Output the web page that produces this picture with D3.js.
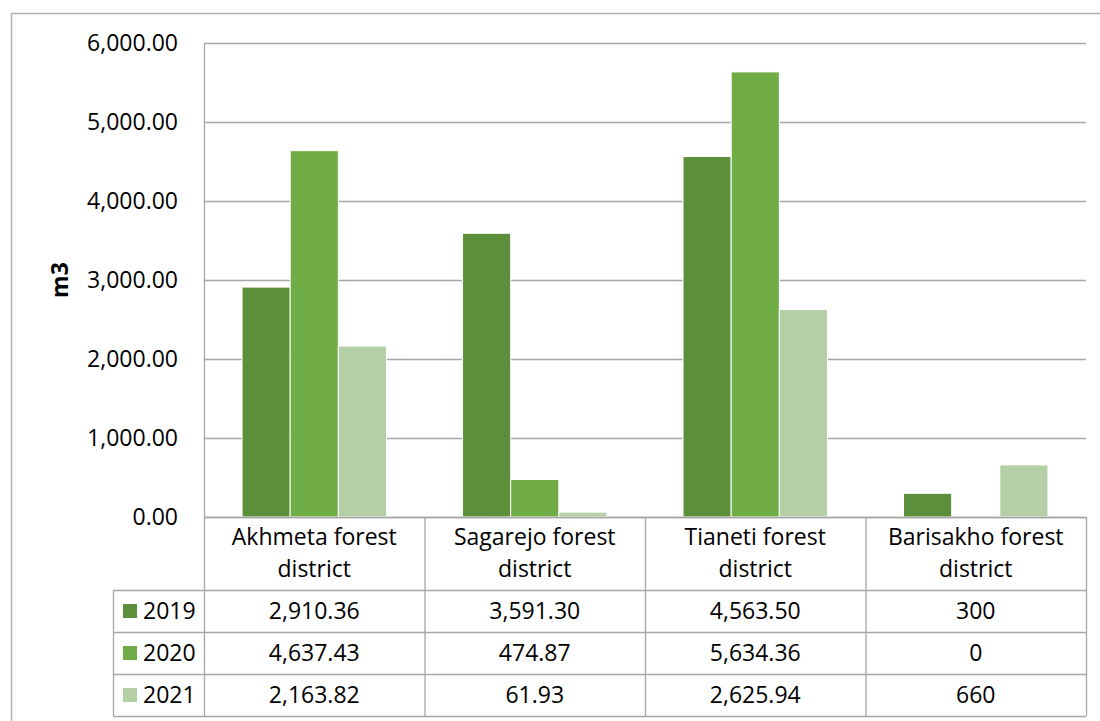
<!DOCTYPE html>
<html>
<head>
<meta charset="utf-8">
<script src="https://cdn.jsdelivr.net/npm/d3@7"></script>
<style>
  body { margin: 0; background: #fff; }
  text { font-family: "Open Sans", "DejaVu Sans", sans-serif; fill: #000; }
</style>
</head>
<body>
<div id="chart"></div>
<script>
// data
const districts = ["Akhmeta forest district", "Sagarejo forest district", "Tianeti forest district", "Barisakho forest district"];
const years = ["2019", "2020", "2021"];
const values2019 = [2910.36, 3591.30, 4563.50, 300];
const values2020 = [4637.43, 474.87, 5634.36, 0];
const values2021 = [2163.82, 61.93, 2625.94, 660];
const yTicks = [0, 1000, 2000, 3000, 4000, 5000, 6000];
const yLabel = "m3";

const series = [values2019, values2020, values2021];
const colors = ["#5b8f3a", "#70ad47", "#b4cfa6"];

const W = 1100, H = 721;
const plot = { left: 204, right: 1086, top: 43, bottom: 517 };
const headerH = 73, rowH = 42, tableLeft = 113;
const gridColor = "#a6a6a6";
const fontSize = 23;

const svg = d3.select("#chart").append("svg")
  .attr("width", W)
  .attr("height", H);

// outer chart border (only top and left edges show in the frame)
svg.append("path")
  .attr("d", `M11.5,${H} V13.5 H${W}`)
  .attr("fill", "none")
  .attr("stroke", "#b3b3b3")
  .attr("stroke-width", 1.5);

const x0 = d3.scaleBand()
  .domain(districts)
  .range([plot.left, plot.right]);

const x1 = d3.scaleBand()
  .domain(years)
  .range([0, x0.bandwidth()])
  .paddingInner(0)
  .paddingOuter(0.79);

const y = d3.scaleLinear()
  .domain([0, 6000])
  .range([plot.bottom, plot.top]);

// gridlines
svg.append("g")
  .selectAll("line")
  .data(yTicks)
  .join("line")
  .attr("x1", plot.left)
  .attr("x2", plot.right)
  .attr("y1", d => Math.round(y(d)) + 0.5)
  .attr("y2", d => Math.round(y(d)) + 0.5)
  .attr("stroke", gridColor)
  .attr("stroke-width", 1.3);

// left axis line
svg.append("line")
  .attr("x1", plot.left + 0.5).attr("x2", plot.left + 0.5)
  .attr("y1", plot.top).attr("y2", plot.bottom)
  .attr("stroke", gridColor)
  .attr("stroke-width", 1.3);

// y tick labels
const fmtTick = d3.format(",.2f");
svg.append("g")
  .selectAll("text")
  .data(yTicks)
  .join("text")
  .attr("x", 178)
  .attr("y", d => y(d))
  .attr("dy", "0.36em")
  .attr("text-anchor", "end")
  .attr("font-size", fontSize)
  .text(d => fmtTick(d));

// y axis title
svg.append("text")
  .attr("transform", `translate(60,${(plot.top + plot.bottom) / 2}) rotate(-90)`)
  .attr("dy", "0.36em")
  .attr("text-anchor", "middle")
  .attr("font-size", fontSize)
  .attr("font-weight", "bold")
  .text(yLabel);

// bars
const groups = svg.append("g")
  .selectAll("g")
  .data(districts)
  .join("g")
  .attr("transform", d => `translate(${x0(d)},0)`);

groups.selectAll("rect")
  .data((d, i) => years.map((yr, j) => ({ year: yr, value: series[j][i], color: colors[j] })))
  .join("rect")
  .attr("x", d => x1(d.year))
  .attr("y", d => y(d.value))
  .attr("width", x1.bandwidth())
  .attr("height", d => plot.bottom - y(d.value))
  .attr("fill", d => d.color)
  .attr("stroke", "#fff")
  .attr("stroke-width", d => d.value > 0 ? 1 : 0);

// data table
const table = svg.append("g").attr("stroke", gridColor).attr("stroke-width", 1.3).attr("fill", "none");
const tableBottom = plot.bottom + headerH + rowH * years.length;

// column borders
x0.domain().concat([null]).forEach(d => {
  const xx = d === null ? plot.right : x0(d);
  table.append("line")
    .attr("x1", xx + 0.5).attr("x2", xx + 0.5)
    .attr("y1", plot.bottom).attr("y2", tableBottom);
});
table.append("line")
  .attr("x1", plot.left).attr("x2", plot.right)
  .attr("y1", plot.bottom + 0.5).attr("y2", plot.bottom + 0.5);
// row borders
d3.range(years.length + 1).forEach(r => {
  const yy = plot.bottom + headerH + r * rowH;
  table.append("line")
    .attr("x1", tableLeft).attr("x2", plot.right)
    .attr("y1", yy + 0.5).attr("y2", yy + 0.5);
});
table.append("line")
  .attr("x1", tableLeft + 0.5).attr("x2", tableLeft + 0.5)
  .attr("y1", plot.bottom + headerH).attr("y2", tableBottom);

// header: category names on two lines
svg.append("g")
  .selectAll("text")
  .data(districts)
  .join("text")
  .attr("x", d => x0(d) + x0.bandwidth() / 2)
  .attr("y", plot.bottom + 28)
  .attr("text-anchor", "middle")
  .attr("font-size", fontSize)
  .each(function(d) {
    const words = d.split(" ");
    const lines = [words.slice(0, 2).join(" "), words.slice(2).join(" ")];
    d3.select(this).selectAll("tspan")
      .data(lines)
      .join("tspan")
      .attr("x", x0(d) + x0.bandwidth() / 2)
      .attr("dy", (l, i) => i === 0 ? 0 : 32)
      .text(l => l);
  });

// rows: legend key + values
const fmtVal = v => Number.isInteger(v) ? d3.format(",")(v) : d3.format(",.2f")(v);
years.forEach((yr, j) => {
  const cy = plot.bottom + headerH + j * rowH + rowH / 2;
  svg.append("rect")
    .attr("x", 123).attr("y", cy - 7)
    .attr("width", 14).attr("height", 14)
    .attr("fill", colors[j]);
  svg.append("text")
    .attr("x", 143).attr("y", cy)
    .attr("dy", "0.36em")
    .attr("font-size", fontSize)
    .text(yr);
  svg.append("g")
    .selectAll("text")
    .data(series[j])
    .join("text")
    .attr("x", (v, i) => x0(districts[i]) + x0.bandwidth() / 2)
    .attr("y", cy)
    .attr("dy", "0.36em")
    .attr("text-anchor", "middle")
    .attr("font-size", fontSize)
    .text(v => fmtVal(v));
});
</script>
</body>
</html>
